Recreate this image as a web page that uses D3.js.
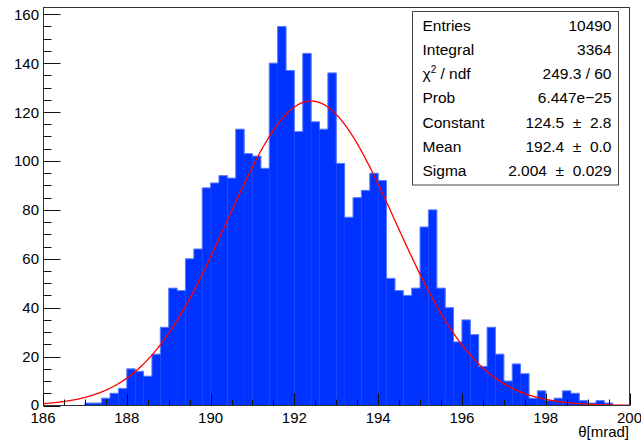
<!DOCTYPE html>
<html>
<head>
<meta charset="utf-8">
<script src="https://cdn.jsdelivr.net/npm/d3@7"></script>
<style>
  html, body { margin: 0; padding: 0; background: #fff; }
  svg { display: block; }
  text { font-family: "Liberation Sans", Arial, Helvetica, sans-serif; fill: #000; }
</style>
</head>
<body>
<svg id="chart" width="641" height="441"></svg>
<script>
// Histogram binning: 70 bins of 0.2 mrad between 186 and 200
const xMin = 186, xMax = 200, binWidth = 0.2;

// Bin contents, one entry per bin, low edge 186.0, 186.2, ...
const counts = [
  0, 0, 0, 0, 0, 1, 1, 3, 5, 7,
  15, 14, 12, 21, 32, 48, 47, 60, 64, 89,
  91, 94, 93, 113, 103, 102, 97, 140, 155, 137,
  112, 144, 116, 113, 136, 99, 77, 85, 88, 95,
  92, 52, 47, 45, 48, 73, 80, 48, 40, 26,
  35, 29, 16, 32, 21, 10, 17, 13, 3, 6,
  2, 3, 6, 5, 2, 1, 2, 1, 0, 0
];

// Gaussian fit parameters
const fitConstant = 124.5, fitMean = 192.4, fitSigma = 2.004;

// Tick labels
const xTicks = [186, 188, 190, 192, 194, 196, 198, 200];
const yTicks = [0, 20, 40, 60, 80, 100, 120, 140, 160];

// Statistics box rows
const statLabels = ["Entries", "Integral", "chi2", "Prob", "Constant", "Mean", "Sigma"];
const statValues = ["10490", "3364", "249.3 / 60", "6.447e\u221225", "124.5 \u00b1 2.8", "192.4 \u00b1 0.0", "2.004 \u00b1 0.029"];

const svg = d3.select("#chart");

const frame = { left: 43, right: 629.5, top: 7.5, bottom: 405.5 };
const yTop = 162.75;

const x = d3.scaleLinear().domain([xMin, xMax]).range([frame.left, frame.right]);
const y = d3.scaleLinear().domain([0, yTop]).range([frame.bottom, frame.top]);

const bins = counts.map((c, i) => ({ x0: xMin + i * binWidth, x1: xMin + (i + 1) * binWidth, v: c }));

// Filled histogram
svg.append("g")
  .selectAll("rect")
  .data(bins.filter(d => d.v > 0))
  .join("rect")
  .attr("x", d => x(d.x0))
  .attr("width", d => x(d.x1) - x(d.x0) + 0.3)
  .attr("y", d => y(d.v))
  .attr("height", d => y(0) - y(d.v))
  .attr("fill", "#0033ff");

// Histogram outline (step line)
const stepPts = [];
bins.forEach(d => { stepPts.push([d.x0, d.v]); stepPts.push([d.x1, d.v]); });
svg.append("path")
  .datum(stepPts)
  .attr("fill", "none")
  .attr("stroke", "#5a7dff")
  .attr("stroke-width", 1)
  .attr("d", d3.line().x(d => x(d[0])).y(d => y(d[1])));

// Gaussian fit curve
const curvePts = d3.range(0, 401).map(i => {
  const xv = xMin + (xMax - xMin) * i / 400;
  return [xv, fitConstant * Math.exp(-0.5 * Math.pow((xv - fitMean) / fitSigma, 2))];
});
svg.append("path")
  .datum(curvePts)
  .attr("fill", "none")
  .attr("stroke", "#ff0000")
  .attr("stroke-width", 1.3)
  .attr("d", d3.line().x(d => x(d[0])).y(d => y(d[1])));

// Frame
svg.append("rect")
  .attr("x", frame.left + 0.5).attr("y", frame.top)
  .attr("width", frame.right - frame.left - 0.5).attr("height", frame.bottom - frame.top)
  .attr("fill", "none").attr("stroke", "#333").attr("stroke-width", 1);

// X axis ticks (drawn inward) and labels
const xMajorLen = 12, xMinorLen = 6;
const xMinor = d3.range(xMin, xMax + 0.001, 0.5);
svg.append("g")
  .selectAll("line")
  .data(xMinor)
  .join("line")
  .attr("x1", d => Math.round(x(d)) + 0.5).attr("x2", d => Math.round(x(d)) + 0.5)
  .attr("y1", frame.bottom)
  .attr("y2", d => frame.bottom - (Math.abs(d - Math.round(d / 2) * 2) < 1e-6 ? xMajorLen : xMinorLen))
  .attr("stroke", "#111").attr("stroke-width", 1);

svg.append("g")
  .selectAll("text")
  .data(xTicks)
  .join("text")
  .attr("x", d => x(d))
  .attr("y", 423)
  .attr("text-anchor", "middle")
  .attr("font-size", 15)
  .text(d => d);

// Y axis ticks (drawn inward) and labels
const yMajorLen = 17, yMinorLen = 8;
const yMinor = d3.range(0, 160.001, 5);
svg.append("g")
  .selectAll("line")
  .data(yMinor)
  .join("line")
  .attr("x1", frame.left + 0.5)
  .attr("x2", d => frame.left + 0.5 + (d % 20 === 0 ? yMajorLen : yMinorLen))
  .attr("y1", d => Math.round(y(d)) + 0.5).attr("y2", d => Math.round(y(d)) + 0.5)
  .attr("stroke", "#111").attr("stroke-width", 1);

svg.append("g")
  .selectAll("text")
  .data(yTicks)
  .join("text")
  .attr("x", 39)
  .attr("y", d => y(d) + (d === 0 ? 4.5 : 5.5))
  .attr("text-anchor", "end")
  .attr("font-size", 15)
  .text(d => d);

// Axis title
svg.append("text")
  .attr("x", 629)
  .attr("y", 437)
  .attr("text-anchor", "end")
  .attr("font-size", 15)
  .text("\u03b8[mrad]");

// Statistics box
const box = { x: 412.5, y: 11.5, w: 206, h: 173.5 };
svg.append("rect")
  .attr("x", box.x).attr("y", box.y).attr("width", box.w).attr("height", box.h)
  .attr("fill", "#fff").attr("stroke", "#444").attr("stroke-width", 1);

const rowH = 24.3, firstBase = 30.5;
const stats = svg.append("g").attr("font-size", 15.5);
statLabels.forEach((lab, i) => {
  const t = stats.append("text")
    .attr("x", 422.5)
    .attr("y", firstBase + i * rowH);
  if (lab === "chi2") {
    t.append("tspan").text("\u03c7");
    t.append("tspan").attr("font-size", 10).attr("dy", -6).text("2");
    t.append("tspan").attr("dy", 6).text(" / ndf");
  } else {
    t.text(lab);
  }
  stats.append("text")
    .attr("x", 611.5)
    .attr("y", firstBase + i * rowH)
    .attr("text-anchor", "end")
    .attr("xml:space", "preserve")
    .text(statValues[i].replace(" \u00b1 ", "  \u00b1  "));
});
</script>
</body>
</html>
